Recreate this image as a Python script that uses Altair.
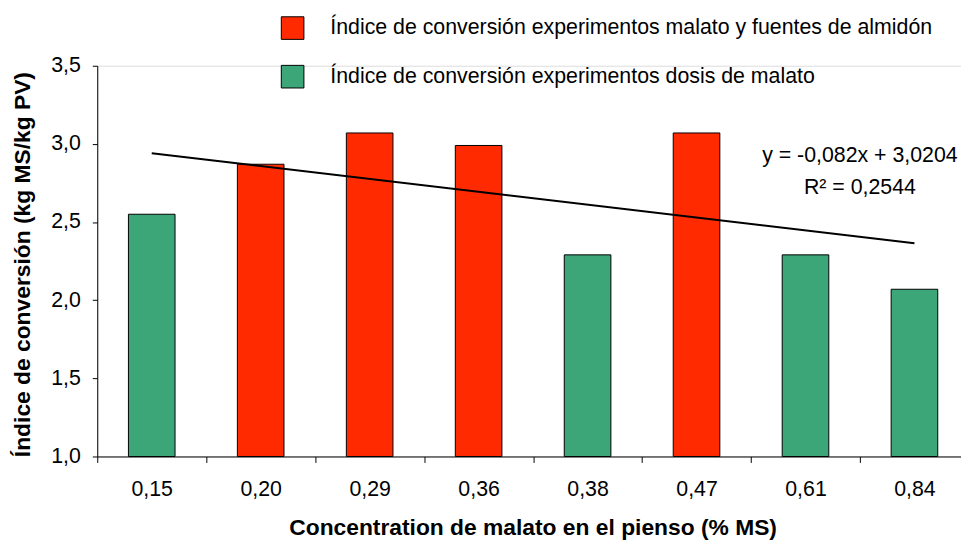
import altair as alt
import pandas as pd

categories = ["0,15", "0,20", "0,29", "0,36", "0,38", "0,47", "0,61", "0,84"]
values = [2.55, 2.87, 3.07, 2.99, 2.29, 3.07, 2.29, 2.07]
series_names = [
    "Índice de conversión experimentos malato y fuentes de almidón",
    "Índice de conversión experimentos dosis de malato",
]
series_of_bar = [1, 0, 0, 0, 1, 0, 1, 1]
series_colors = ["#FF2A00", "#3DA679"]
axis_base = 1.0

trend_x = ["0,15", "0,84"]
trend_y = [2.94, 2.365]

eq_text = ["y = -0,082x + 3,0204", "R² = 0,2544"]
eq_x = ["0,84", "0,84"]
eq_y = [2.92, 2.72]

FONT = "Liberation Sans"
FS = 21.5
TFS = 23

bars_df = pd.DataFrame({
    "cat": categories,
    "val": values,
    "base": [axis_base] * len(values),
    "serie": [series_names[i] for i in series_of_bar],
})
trend_df = pd.DataFrame({"cat": trend_x, "val": trend_y})
eq_df = pd.DataFrame({"cat": eq_x, "val": eq_y, "txt": eq_text})

x_scale = alt.Scale(domain=categories, range=[0, 879], paddingInner=0, paddingOuter=0)
y_scale = alt.Scale(domain=[1.0, 3.5], nice=False, zero=False)

x_axis = alt.Axis(
    title="Concentration de malato en el pienso (% MS)",
    labelAngle=0, tickBand="extent", tickSize=6, labelPadding=16,
    labelFontSize=FS, labelFont=FONT, labelColor="black",
    titleFontSize=TFS, titleFont=FONT, titleFontWeight="bold", titleColor="black",
    titleX=439, titleY=72, titleBaseline="middle", titleAlign="center",
    domainColor="black", tickColor="black", grid=False,
)
y_axis = alt.Axis(
    title="Índice de conversión (kg MS/kg PV)",
    values=[1.0, 1.5, 2.0, 2.5, 3.0, 3.5], format=".1f",
    labelExpr="replace(datum.label, '.', ',')",
    tickSize=5, labelPadding=12,
    labelFontSize=FS, labelFont=FONT, labelColor="black",
    titleFontSize=TFS, titleFont=FONT, titleFontWeight="bold", titleColor="black",
    titleX=-75, titleY=200, titleBaseline="middle", titleAlign="center", titleAngle=-90,
    domainColor="black", tickColor="black", grid=False,
)

bars = alt.Chart(bars_df).mark_bar(size=47, stroke="black", strokeWidth=1).encode(
    x=alt.X("cat:N", scale=x_scale, axis=x_axis, sort=categories),
    y=alt.Y("val:Q", scale=y_scale, axis=y_axis),
    y2=alt.Y2("base:Q"),
    color=alt.Color(
        "serie:N",
        scale=alt.Scale(domain=series_names, range=series_colors),
        legend=alt.Legend(
            title=None, orient="none", legendX=185, legendY=-50,
            symbolType="square", symbolSize=520, symbolStrokeColor="black",
            symbolStrokeWidth=1, symbolOpacity=1,
            labelFontSize=FS, labelFont=FONT, labelColor="black",
            labelOffset=26, rowPadding=21, labelLimit=900,
        ),
    ),
)

trend = alt.Chart(trend_df).mark_line(color="black", strokeWidth=2).encode(
    x=alt.X("cat:N", scale=x_scale, sort=categories),
    y=alt.Y("val:Q", scale=y_scale),
)

eq = alt.Chart(eq_df).mark_text(
    font=FONT, fontSize=FS, color="black", align="center", baseline="middle", dx=-55
).encode(
    x=alt.X("cat:N", scale=x_scale, sort=categories),
    y=alt.Y("val:Q", scale=y_scale),
    text="txt:N",
)

chart = alt.layer(bars, trend, eq).properties(
    width=871, height=394,
    autosize=alt.AutoSizeParams(type="none"),
    padding={"left": 90, "top": 56, "right": 0, "bottom": 86},
).configure_view(stroke=None).configure(background="white")

chart.save("out.html", embed_options={"renderer": "svg", "actions": False})
